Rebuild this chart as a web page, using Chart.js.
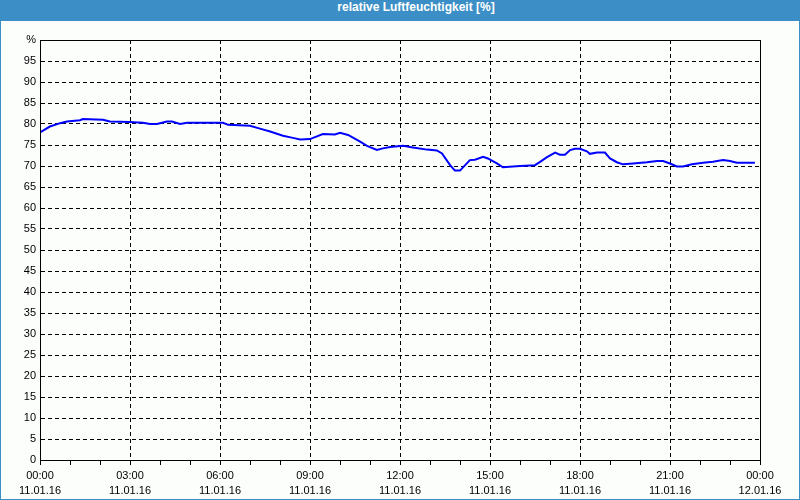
<!DOCTYPE html>
<html>
<head>
<meta charset="utf-8">
<script src="https://cdn.jsdelivr.net/npm/chart.js@4"></script>
<style>
  html, body { margin: 0; padding: 0; }
  #frame { position: relative; width: 800px; height: 500px; background: #3c8fc6; }
  #inner { position: absolute; left: 1px; top: 21px; width: 798px; height: 478px; background: #fcfefc; }
  #title { position: absolute; left: 0; top: 0; width: 832px; height: 21px; line-height: 20px; text-align: center;
           color: #fff; font: bold 12px "Liberation Sans", Arial, sans-serif; }
  #c { position: absolute; left: 0; top: 0; }
</style>
</head>
<body>
<div id="frame">
  <div id="inner"></div>
  <div id="title">relative Luftfeuchtigkeit [%]</div>
  <canvas id="c" width="800" height="500"></canvas>
</div>
<script>
// Stunden ab 11.01.16 00:00
const hours = [0, 0.33, 0.67, 0.9, 1.33, 1.43, 2.1, 2.33, 3.0, 3.43, 3.67, 3.9, 4.23, 4.4, 4.67, 4.9,
  6.1, 6.27, 7.0, 7.33, 7.67, 8.1, 8.43, 8.67, 9.0, 9.43, 9.83, 10.0, 10.27, 10.67, 10.9, 11.23,
  11.43, 11.67, 12.1, 12.43, 12.9, 13.23, 13.4, 13.67, 13.83, 14.0, 14.33, 14.5, 14.77, 14.93,
  15.23, 15.43, 16.0, 16.5, 16.67, 16.9, 17.17, 17.33, 17.5, 17.67, 17.83, 18.0, 18.23, 18.33,
  18.57, 18.83, 19.0, 19.23, 19.43, 19.77, 20.23, 20.57, 20.77, 21.0, 21.23, 21.43, 21.73, 22.1,
  22.43, 22.77, 23.0, 23.23, 23.83];
const humidity = [78.0, 79.4, 80.2, 80.6, 80.9, 81.2, 81.0, 80.6, 80.5, 80.3, 80.0, 80.0, 80.6, 80.6, 80.0, 80.3,
  80.3, 79.8, 79.6, 78.9, 78.2, 77.2, 76.7, 76.3, 76.4, 77.6, 77.5, 77.9, 77.4, 75.8, 74.8, 73.8,
  74.2, 74.5, 74.8, 74.4, 73.9, 73.7, 73.0, 70.2, 68.9, 68.9, 71.4, 71.5, 72.2, 71.8,
  70.6, 69.7, 70.0, 70.2, 71.0, 72.1, 73.2, 72.7, 72.7, 73.8, 74.1, 74.1, 73.5, 72.9,
  73.2, 73.2, 71.8, 70.9, 70.4, 70.6, 70.9, 71.2, 71.2, 70.6, 69.9, 69.9, 70.4, 70.8,
  71.0, 71.4, 71.2, 70.8, 70.8];
const timeLabels = ['00:00', '03:00', '06:00', '09:00', '12:00', '15:00', '18:00', '21:00', '00:00'];
const dateLabels = ['11.01.16', '11.01.16', '11.01.16', '11.01.16', '11.01.16', '11.01.16', '11.01.16', '11.01.16', '12.01.16'];

const points = hours.map((h, i) => ({ x: h, y: humidity[i] }));
const font = { family: '"Liberation Sans", Arial, sans-serif', size: 11, lineHeight: 1.35 };
const DASH = [4, 3];

const framePlugin = {
  id: 'frame',
  afterDraw(chart) {
    const a = chart.chartArea, ctx = chart.ctx;
    ctx.save();
    ctx.strokeStyle = '#000';
    ctx.lineWidth = 1;
    ctx.strokeRect(Math.round(a.left) + 0.5, Math.round(a.top) + 0.5, Math.round(a.right - a.left), Math.round(a.bottom - a.top));
    ctx.restore();
  }
};

new Chart(document.getElementById('c'), {
  type: 'line',
  data: {
    datasets: [{
      data: points, borderColor: '#0000ff', borderWidth: 2, pointRadius: 0, tension: 0, fill: false
    }]
  },
  options: {
    responsive: false, animation: false, events: [],
    layout: { padding: { left: 0, top: 40, right: 40, bottom: 0 } },
    plugins: { legend: { display: false }, tooltip: { enabled: false } },
    scales: {
      x: {
        type: 'linear', min: 0, max: 24,
        afterFit: s => { s.height = 40; },
        ticks: {
          stepSize: 1, autoSkip: false, maxRotation: 0, padding: 4, color: '#000', font: font,
          callback: v => (v % 3 === 0 ? [timeLabels[v / 3], dateLabels[v / 3]] : '')
        },
        grid: {
          color: c => (c.tick && c.tick.value % 3 === 0 ? '#000' : 'rgba(0,0,0,0)'),
          tickColor: '#000', tickLength: 5, lineWidth: 1
        },
        border: { color: '#000', dash: DASH }
      },
      y: {
        min: 0, max: 100,
        afterFit: s => { s.width = 40; },
        ticks: {
          stepSize: 5, padding: 4, color: '#000', font: font,
          callback: v => (v === 100 ? '%' : v)
        },
        grid: { color: '#000', drawTicks: false, lineWidth: 1 },
        border: { color: '#000', dash: DASH }
      }
    }
  },
  plugins: [framePlugin]
});
</script>
</body>
</html>
